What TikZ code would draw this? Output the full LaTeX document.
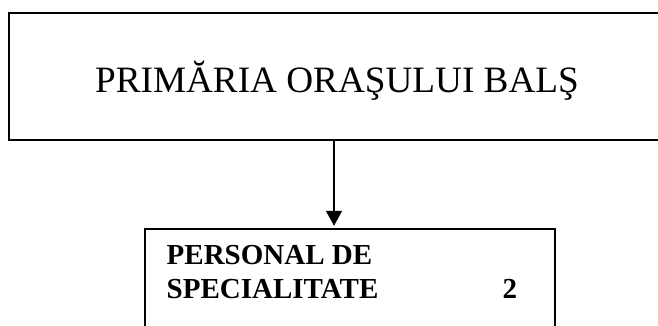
\documentclass[tikz,border=0pt]{standalone}
\usepackage{fontspec}
\setmainfont{Liberation Serif}
\usetikzlibrary{arrows.meta, positioning}

\begin{document}
\begin{tikzpicture}[x=1pt, y=-1pt, line width=1.4pt,
                    >={Triangle[width=16pt, length=15pt]}]
  \tikzstyle{every box}=[draw=black, rectangle, inner sep=0pt]
  \tikzstyle{big text}=[font=\fontsize{37.2}{44}\selectfont, inner sep=0pt, anchor=base]
  \tikzstyle{unit text}=[font=\fontsize{29}{35}\selectfont\bfseries, inner sep=0pt, anchor=base west]

  \useasboundingbox (0,0) rectangle (658,326);
  \clip (0,0) rectangle (658,326);

  \node[every box, minimum width=656pt, minimum height=127pt] (primaria) at (337,76.5) {};
  \node[big text]  (title) at (337,93) {PRIMĂRIA ORAŞULUI BALŞ};
  \node[every box, minimum width=410pt, minimum height=110pt] (personal) at (350,284) {};

  \node[unit text] (line1) at (166,264) {PERSONAL DE};
  \node[unit text] (line2) at (166,298) {SPECIALITATE};
  \node[unit text] (count) at (502,298) {2};

  \coordinate (from) at (primaria.south -| 334,0);
  \coordinate (to)   at (personal.north -| 334,0);
  \draw[->, shorten >=2.5pt] (from) -- (to);
\end{tikzpicture}
\end{document}
